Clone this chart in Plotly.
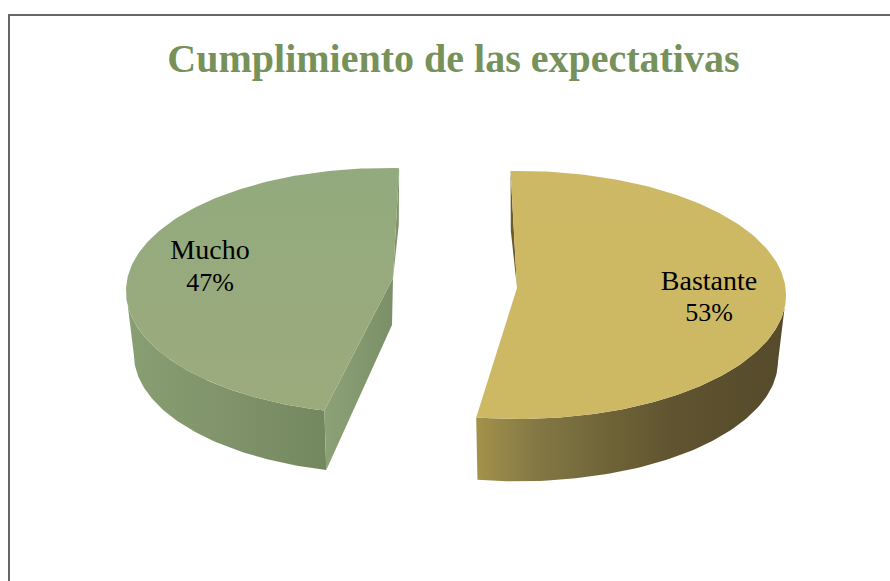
import numpy as np
import plotly.graph_objects as go

# Datos
categories = ["Bastante", "Mucho"]
values = [53, 47]

TITLE = "Cumplimiento de las expectativas"
COLOR_TITLE = "#76915a"
COLOR_FONT = "#000000"
FONT_FAMILY = "Liberation Serif"

# Geometria de cada porcion (en pixeles de la imagen)
SLICES = {
    "Bastante": dict(cx=518.5, cy=295, rx=267.5, ry=124, apex=(517, 288), start=-1.7, direction=1,
                     depth=66, apex_depth=60, label=(709, 282.5, 314),
                     top=["#cdb965", "#cdb964"],
                     side=[[0, "#a4924b"], [0.18, "#857a45"], [0.42, "#6f6438"], [0.65, "#5f5330"], [1, "#554a2a"]],
                     sliver="#6b5c2a"),
    "Mucho": dict(cx=386, cy=291, rx=260, ry=123, apex=(393, 278), start=2.9, direction=-1,
                  depth=63, apex_depth=47, label=(210, 251.5, 284),
                  top=["#92aa7e", "#9cab7c"],
                  side=[[0, "#899e72"], [0.5, "#80936a"], [1, "#748860"]],
                  sliver="#7f9268",
                  cut=["#8ca276", "#7b8f68"]),
}
LOWER_SCALE = 0.97


def rim(s, theta, lower=False):
    t = np.radians(theta)
    k = LOWER_SCALE if lower else 1
    d = s["depth"] if lower else 0
    return s["cx"] + k * s["rx"] * np.sin(t), s["cy"] + d - k * s["ry"] * np.cos(t)


def gradient(kind, start, stop, colors):
    scale = colors if isinstance(colors[0], list) else [[0, colors[0]], [1, colors[1]]]
    return dict(type=kind, start=start, stop=stop, colorscale=scale)


def poly(xs, ys, fillgradient=None, color=None):
    return go.Scatter(
        x=xs, y=ys, mode="lines", fill="toself",
        line=dict(width=0),
        fillcolor=color,
        fillgradient=fillgradient,
        hoverinfo="skip", showlegend=False,
    )


fig = go.Figure()

for cat, val in zip(categories, values):
    s = SLICES[cat]
    theta = s["start"] + s["direction"] * np.linspace(0, val * 3.6, 181)
    ax, ay = s["apex"]
    tx, ty = rim(s, theta)
    bx, by = rim(s, theta, lower=True)

    # Cara lateral exterior, solo la parte que mira al frente
    front = np.abs(theta) >= 90
    fig.add_trace(poly(
        np.r_[tx[front], bx[front][::-1]], np.r_[ty[front], by[front][::-1]],
        fillgradient=gradient("horizontal", tx[front].min(), tx[front].max(), s["side"]),
    ))

    # Borde interior que asoma por detras
    fig.add_trace(poly(
        [tx[0], bx[0], ax, tx[0]], [ty[0], ty[0] + s["depth"] * 0.9, ay, ty[0]],
        color=s["sliver"],
    ))

    # Cara del corte frontal
    if "cut" in s:
        fig.add_trace(poly(
            [ax, ax - 1, bx[-1], tx[-1], ax], [ay, ay + s["apex_depth"], by[-1], ty[-1], ay],
            fillgradient=gradient("horizontal", tx[-1], ax, s["cut"]),
        ))

    # Cara superior
    fig.add_trace(poly(
        np.r_[ax, tx, ax], np.r_[ay, ty, ay],
        fillgradient=gradient("vertical", ty.min(), ty.max(), s["top"]),
    ))

    # Etiquetas
    lx, ly1, ly2 = s["label"]
    fig.add_trace(go.Scatter(
        x=[lx, lx], y=[ly1, ly2], mode="text",
        text=[cat, f"{val}%"],
        textposition="middle center",
        textfont=dict(family=FONT_FAMILY, size=[28, 26], color=COLOR_FONT),
        hoverinfo="skip", showlegend=False,
    ))

# Marco: solo se ven los lados superior e izquierdo
fig.add_shape(type="rect", x0=9, y0=15, x1=900, y1=640,
              line=dict(color="#666666", width=2), fillcolor="rgba(0,0,0,0)")

fig.update_layout(
    width=890,
    height=581,
    margin=dict(t=0, l=0, r=0, b=0),
    paper_bgcolor="white",
    plot_bgcolor="white",
    showlegend=False,
    title=dict(
        text=f"<b>{TITLE}</b>",
        x=0.5095, xanchor="center",
        y=0.9, yanchor="middle",
        font=dict(family=FONT_FAMILY, size=40, color=COLOR_TITLE),
    ),
    xaxis=dict(range=[0, 890], visible=False, fixedrange=True),
    yaxis=dict(range=[581, 0], visible=False, fixedrange=True),
)

fig.write_html(
    "out.html",
    config=dict(displayModeBar=False),
    post_script="document.body.style.margin='0';document.body.style.overflow='hidden';",
)
